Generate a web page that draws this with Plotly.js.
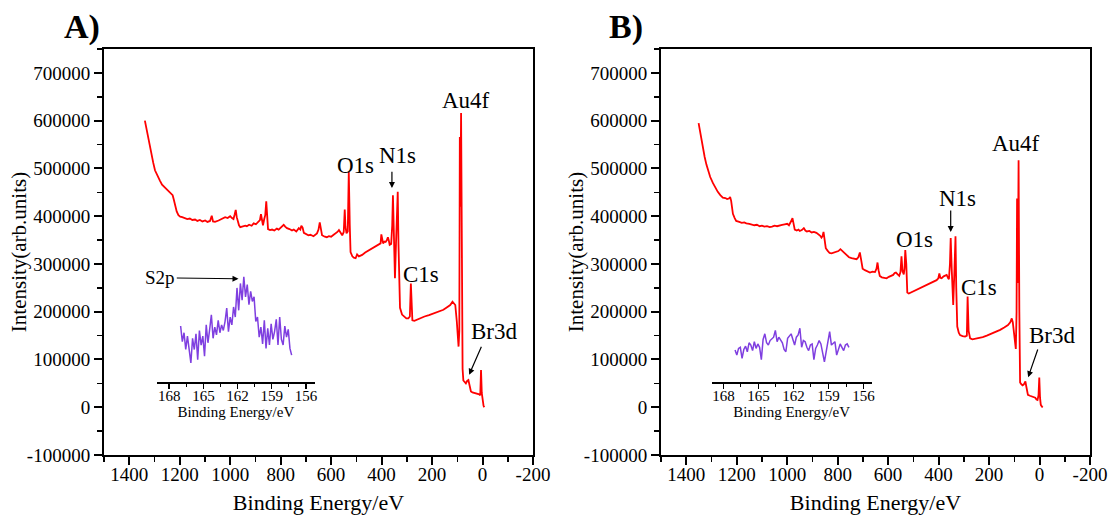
<!DOCTYPE html>
<html>
<head>
<meta charset="utf-8">
<script src="https://cdn.plot.ly/plotly-3.0.1.min.js"></script>
<style>html,body{margin:0;padding:0;background:#fff;}#chart{width:1110px;height:515px;}</style>
</head>
<body>
<div id="chart"></div>
<script>
// ---------- Panel A survey spectrum ----------
const energyA = [1338,1330,1324,1318,1311,1305,1298,1290,1284,1278,1270,1264,1258,1250,1244,1238,1232,1228,1224,1218,1212,1205,1198,1190,1179,1170,1160,1150,1139,1130,1120,1110,1099,1090,1080,1073,1068,1060,1046,1035,1020,1010,1000,993,987,982,978,974,970,965,960,950,940,934,925,915,907,898,887,882,878,874,870,865,861,857,853,850,842,834,825,815,808,798,788,782,775,765,755,748,738,728,722,718,713,708,700,690,682,670,656,650,645,640,636,625,617,609,600,590,582,575,569,562,556,550,546,543,539,534,530,526,523,516,510,503,497,490,477,465,450,437,424,412,404,401,397,394,389,384,379,375,371,368,362,358,355,351,347,343,340,336,333,331,327,319,311,302,294,288,284,280,278,270,258,245,230,212,195,172,155,139,128,119,113,108,102,98,95,92,90,88,85,82,79,76,71,66,61,56,51,46,40,34,26,20,13,9,6,3,0,-4,-7];
const intensityA = [600000,578000,559000,540000,524000,512000,496000,486000,478000,474000,466000,463000,458000,454000,452000,449000,446000,444000,436000,420000,410000,402000,399000,398000,396000,394000,395000,392000,393000,390000,392000,389000,391000,388000,390000,401000,389000,388000,391000,394000,398000,396000,400000,396000,394000,404000,413000,398000,390000,381000,377000,378000,380000,379000,382000,380000,385000,383000,389000,392000,404000,388000,381000,394000,402000,431000,385000,373000,371000,372000,370000,374000,372000,377000,382000,378000,375000,373000,370000,372000,368000,375000,372000,380000,376000,365000,362000,360000,361000,358000,364000,372000,387000,372000,360000,357000,356000,358000,357000,361000,364000,367000,371000,365000,360000,367000,414000,378000,364000,368000,493000,380000,325000,316000,313000,312000,320000,316000,319000,324000,329000,332000,336000,340000,343000,362000,346000,343000,347000,346000,350000,356000,348000,340000,342000,380000,444000,330000,270000,340000,420000,451000,340000,266000,208000,194000,190000,186000,186000,190000,259000,186000,182000,181000,184000,187000,190000,193000,196000,200000,204000,210000,214000,221000,218000,214000,180000,145000,127000,160000,566000,420000,616000,300000,80000,56000,52000,50000,55000,57000,45000,33000,31000,30000,30000,28000,27000,25000,78000,30000,10000,3000,0];

// ---------- Panel B survey spectrum ----------
const energyB = [1351,1345,1340,1333,1327,1320,1314,1305,1294,1285,1275,1265,1255,1245,1238,1231,1226,1222,1215,1208,1202,1190,1180,1170,1162,1150,1140,1130,1120,1109,1100,1090,1080,1069,1060,1050,1040,1030,1020,1010,1000,993,987,982,979,975,970,962,955,950,942,934,928,922,912,903,894,884,875,869,864,860,856,852,847,840,832,824,815,806,797,789,785,778,770,765,755,745,735,725,718,712,708,701,692,682,672,662,652,646,642,638,633,625,616,606,597,589,580,574,569,562,556,551,547,543,538,535,532,528,524,518,510,500,487,470,458,447,430,418,408,401,397,393,388,380,373,368,362,359,355,352,348,342,337,333,330,326,320,315,305,295,288,285,281,275,266,256,240,225,209,190,175,156,140,125,116,110,106,103,98,94,91,89,86,83,80,77,72,67,62,56,53,49,46,38,30,24,17,12,8,4,1,-2,-5,-10,-13];
const intensityB = [595000,575000,559000,540000,524000,508000,496000,482000,469000,460000,451000,444000,439000,438000,436000,437000,440000,432000,405000,396000,390000,388000,386000,387000,385000,384000,383000,381000,382000,379000,380000,378000,379000,377000,378000,380000,379000,381000,382000,383000,384000,381000,386000,392000,396000,384000,372000,370000,372000,369000,371000,375000,370000,368000,369000,366000,367000,365000,362000,359000,355000,358000,367000,350000,333000,328000,323000,322000,324000,326000,327000,331000,329000,325000,321000,317000,314000,312000,311000,310000,314000,324000,312000,290000,287000,284000,282000,284000,283000,290000,303000,287000,275000,272000,271000,270000,273000,275000,277000,281000,282000,278000,275000,283000,316000,285000,278000,290000,329000,300000,240000,238000,240000,242000,245000,249000,253000,256000,260000,263000,266000,270000,280000,271000,270000,274000,276000,277000,270000,268000,300000,354000,290000,214000,290000,358000,250000,169000,156000,151000,149000,148000,150000,232000,160000,144000,142000,143000,145000,147000,150000,154000,158000,162000,167000,172000,178000,186000,178000,165000,140000,122000,200000,437000,260000,517000,200000,52000,48000,46000,48000,54000,45000,30000,26000,24000,23000,22000,20000,16000,15000,25000,62000,20000,5000,1000,0];

// ---------- S2p insets (relative intensity) ----------
const insetEnergy = [167.0,166.85,166.7,166.55,166.4,166.25,166.1,165.95,165.8,165.65,165.5,165.35,165.2,165.05,164.9,164.75,164.6,164.45,164.3,164.15,164.0,163.85,163.7,163.55,163.4,163.25,163.1,162.95,162.8,162.65,162.5,162.35,162.2,162.05,161.9,161.75,161.6,161.45,161.3,161.15,161.0,160.85,160.7,160.55,160.4,160.25,160.1,159.95,159.8,159.65,159.5,159.35,159.2,159.05,158.9,158.75,158.6,158.45,158.3,158.15,158.0,157.85,157.7,157.55,157.4,157.25];
const insetA = [50,36,44,29,41,31,17,39,29,43,20,46,33,41,23,51,35,47,60,39,49,42,55,44,51,46,54,66,45,58,51,67,58,84,64,88,73,94,76,87,69,81,72,76,54,58,40,49,34,55,30,48,33,52,38,45,56,33,58,38,33,50,40,47,30,24];
const insetB = [28.6,24,30,31,21,29,32,27,35,33,28,36,30,34,31,20,38,43,35,33,37,39,40,46,36,40,38,35,29,27,39,41,43,38,33,40,42,48,31,37,36,31,28,33,34,20,30,33,37,34,25,18,27,36,45,33,35,36,24,30,34,31,28,33,34,31];

// ---------- Tick labels ----------
const xTickVals = [1400,1200,1000,800,600,400,200,0,-200];
const xTickText = ['1400','1200','1000','800','600','400','200','0','-200'];
const yTickVals = [-100000,0,100000,200000,300000,400000,500000,600000,700000];
const yTickText = ['-100000','0','100000','200000','300000','400000','500000','600000','700000'];
const insetTickVals = [168,165,162,159,156];
const insetTickText = ['168','165','162','159','156'];

const FONT = 'Liberation Serif, Times New Roman, serif';
const RED = '#FF0000';
const PURPLE = '#7F3FE0';

const traces = [
  {x: energyA, y: intensityA, xaxis:'x', yaxis:'y', type:'scatter', mode:'lines', line:{color:RED, width:1.8}},
  {x: energyB, y: intensityB, xaxis:'x2', yaxis:'y2', type:'scatter', mode:'lines', line:{color:RED, width:1.8}},
  {x: insetEnergy, y: insetA, xaxis:'x3', yaxis:'y3', type:'scatter', mode:'lines', line:{color:PURPLE, width:1.5}},
  {x: insetEnergy, y: insetB, xaxis:'x4', yaxis:'y4', type:'scatter', mode:'lines', line:{color:PURPLE, width:1.5}}
];

function mainX(domain, anchor) {
  return {
    domain: domain, anchor: anchor, range: [1500, -200],
    tickmode: 'array', tickvals: xTickVals, ticktext: xTickText,
    ticks: 'outside', ticklen: 8, tickwidth: 2, tickcolor: '#000', ticklabelstandoff: -7,
    showline: true, linewidth: 2, linecolor: '#000', mirror: true,
    showgrid: false, zeroline: false,
    tickfont: {family: FONT, size: 19, color: '#000'},
    title: {text: 'Binding Energy/eV', font: {family: FONT, size: 22, color: '#000'}, standoff: 13},
    minor: {dtick: 100, tick0: 0, ticks: 'outside', ticklen: 5, tickwidth: 1.5, tickcolor: '#000', showgrid: false}
  };
}
function mainY(anchor) {
  return {
    domain: [1 - 455/515, 1 - 49/515], anchor: anchor, range: [-100000, 750000],
    tickmode: 'array', tickvals: yTickVals, ticktext: yTickText,
    ticks: 'outside', ticklen: 8, tickwidth: 2, tickcolor: '#000',
    showline: true, linewidth: 2, linecolor: '#000', mirror: true,
    showgrid: false, zeroline: false,
    tickfont: {family: FONT, size: 19, color: '#000'},
    title: {text: 'Intensity(arb.units)', font: {family: FONT, size: 21, color: '#000'}},
    minor: {dtick: 50000, tick0: 0, ticks: 'outside', ticklen: 5, tickwidth: 1.5, tickcolor: '#000', showgrid: false}
  };
}
function insetX(domain, range, anchor) {
  return {
    domain: domain, anchor: anchor, range: range,
    tickmode: 'array', tickvals: insetTickVals, ticktext: insetTickText,
    ticks: 'outside', ticklen: 5, tickwidth: 1.5, tickcolor: '#000', ticklabelstandoff: -6,
    showline: true, linewidth: 1.5, linecolor: '#000', mirror: false,
    showgrid: false, zeroline: false,
    tickfont: {family: FONT, size: 15, color: '#000'},
    title: {text: 'Binding Energy/eV', font: {family: FONT, size: 15, color: '#000'}, standoff: 1},
    minor: {dtick: 1.5, tick0: 156, ticks: 'outside', ticklen: 3, tickwidth: 1, tickcolor: '#000', showgrid: false}
  };
}
function insetY() {
  return {domain: [1 - 382/515, 1 - 270/515], range: [0, 100], visible: false, showgrid: false, zeroline: false};
}

const labelFont = {family: FONT, size: 23, color: '#000'};
function lbl(text, x, y, xr, yr) {
  return {text: text, x: x, y: y, xref: xr, yref: yr, showarrow: false, font: labelFont, xanchor: 'center', yanchor: 'middle'};
}
function arr(x, y, ax, ay, xr, yr) {
  return {text: '', x: x, y: y, ax: ax, ay: ay, xref: xr, yref: yr, axref: xr, ayref: yr,
          showarrow: true, arrowhead: 2, arrowsize: 1, arrowwidth: 1.2, arrowcolor: '#000', standoff: 0, startstandoff: 0};
}

const annotations = [
  {text: '<b>A)</b>', x: 82/1110, y: 1 - 27/515, xref: 'paper', yref: 'paper', showarrow: false,
   font: {family: FONT, size: 34, color: '#000'}, xanchor: 'center', yanchor: 'middle'},
  {text: '<b>B)</b>', x: 626/1110, y: 1 - 27/515, xref: 'paper', yref: 'paper', showarrow: false,
   font: {family: FONT, size: 34, color: '#000'}, xanchor: 'center', yanchor: 'middle'},
  lbl('Au4f', 66, 643000, 'x', 'y'),
  lbl('O1s', 503, 507000, 'x', 'y'),
  lbl('N1s', 335, 526000, 'x', 'y'),
  arr(359, 459000, 359, 496000, 'x', 'y'),
  lbl('C1s', 243, 277000, 'x', 'y'),
  lbl('Br3d', -47, 158000, 'x', 'y'),
  arr(53, 68000, 2, 130000, 'x', 'y'),
  {text: 'S2p', x: 967, y: 269000, ax: 1277, ay: 271000, xref: 'x', yref: 'y', axref: 'x', ayref: 'y',
   showarrow: true, arrowhead: 2, arrowsize: 1, arrowwidth: 1.2, arrowcolor: '#000', standoff: 0,
   font: {family: FONT, size: 19, color: '#000'}},
  lbl('Au4f', 93, 553000, 'x2', 'y2'),
  lbl('N1s', 327, 436000, 'x2', 'y2'),
  arr(352, 367000, 352, 415000, 'x2', 'y2'),
  lbl('O1s', 494, 352000, 'x2', 'y2'),
  lbl('C1s', 240, 250000, 'x2', 'y2'),
  lbl('Br3d', -50, 151000, 'x2', 'y2'),
  arr(45, 63000, 5, 124000, 'x2', 'y2')
];

const layout = {
  width: 1110, height: 515,
  margin: {l: 0, r: 0, t: 0, b: 0},
  paper_bgcolor: '#fff', plot_bgcolor: 'rgba(0,0,0,0)',
  showlegend: false,
  font: {family: FONT, color: '#000'},
  xaxis: mainX([104/1110, 533/1110], 'y'),
  yaxis: mainY('x'),
  xaxis2: mainX([661/1110, 1090/1110], 'y2'),
  yaxis2: mainY('x2'),
  xaxis3: insetX([156.7/1110, 315/1110], [169.1, 155.2], 'y3'),
  yaxis3: Object.assign(insetY(), {anchor: 'x3'}),
  xaxis4: insetX([711.7/1110, 871.7/1110], [169.0, 155.3], 'y4'),
  yaxis4: Object.assign(insetY(), {anchor: 'x4'}),
  annotations: annotations
};

Plotly.newPlot('chart', traces, layout, {staticPlot: true, displayModeBar: false});
</script>
</body>
</html>
